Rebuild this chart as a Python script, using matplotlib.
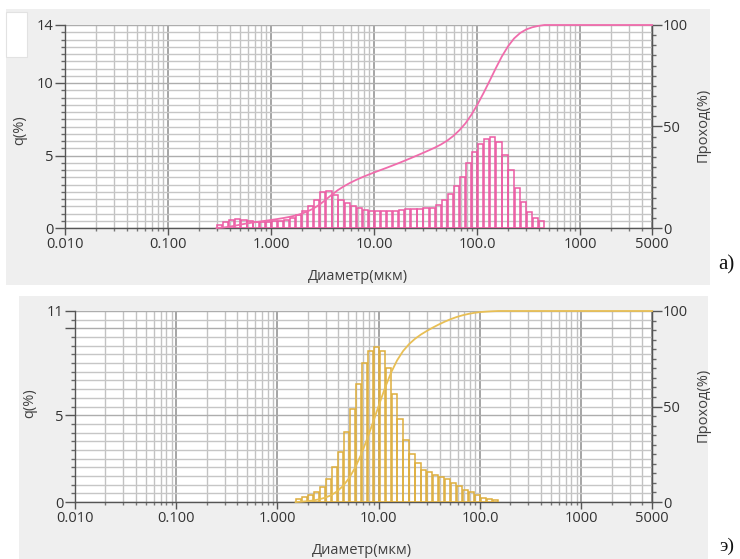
import matplotlib
matplotlib.use("Agg")
import matplotlib.pyplot as plt
from matplotlib.patches import Rectangle
import numpy as np

# ---------------- data ----------------
# Particle size channel edges (mkm), chart a
edges_a = [0.296, 0.339, 0.389, 0.445, 0.510, 0.584, 0.669, 0.766, 0.877, 1.005,
           1.151, 1.318, 1.510, 1.729, 1.981, 2.269, 2.599, 2.976, 3.409, 3.905,
           4.472, 5.122, 5.867, 6.720, 7.697, 8.816, 10.10, 11.57, 13.25, 15.17,
           17.38, 19.90, 22.80, 26.11, 29.91, 34.26, 39.23, 44.94, 51.47, 58.95,
           67.52, 77.34, 88.58, 101.5, 116.2, 133.1, 152.5, 174.6, 200.0, 229.1,
           262.4, 300.5, 344.2, 394.2, 451.6]
q_a = [0.20, 0.40, 0.55, 0.62, 0.55, 0.48, 0.42, 0.42, 0.44, 0.46,
       0.50, 0.58, 0.70, 0.90, 1.20, 1.55, 1.95, 2.45, 2.55, 2.30,
       1.95, 1.70, 1.50, 1.35, 1.25, 1.20, 1.15, 1.15, 1.18, 1.20,
       1.25, 1.28, 1.30, 1.33, 1.35, 1.40, 1.60, 1.90, 2.35, 2.90,
       3.50, 4.45, 5.25, 5.80, 6.15, 6.30, 5.95, 5.05, 4.00, 2.75,
       1.80, 1.10, 0.70, 0.45]

# chart b
edges_b = [1.510, 1.729, 1.981, 2.269, 2.599, 2.976, 3.409, 3.905, 4.472, 5.122,
           5.867, 6.720, 7.697, 8.816, 10.10, 11.57, 13.25, 15.17, 17.38, 19.90,
           22.80, 26.11, 29.91, 34.26, 39.23, 44.94, 51.47, 58.95, 67.52, 77.34,
           88.58, 101.5, 116.2, 133.1, 152.5]
q_b = [0.17, 0.26, 0.39, 0.60, 0.86, 1.30, 2.00, 2.86, 4.02, 5.38,
       6.78, 7.98, 8.70, 8.95, 8.72, 7.70, 6.23, 4.80, 3.56, 2.75,
       2.22, 1.87, 1.73, 1.58, 1.45, 1.30, 1.10, 0.90, 0.71, 0.56,
       0.38, 0.23, 0.17, 0.13]

x_major = [0.01, 0.1, 1, 10, 100, 1000, 5000]
x_major_labels = ["0.010", "0.100", "1.000", "10.00", "100.0", "1000", "5000"]
x_min_lim, x_max_lim = 0.01, 5000

yl_a_ticks = [0, 5, 10, 14]
yl_a_labels = ["0", "5", "10", "14"]
yl_b_ticks = [0, 5, 10, 11]
yl_b_labels = ["0", "5", "", "11"]
yr_ticks = [0, 50, 100]

xlabel = "Диаметр(мкм)"
ylabel_l = "q(%)"
ylabel_r = "Проход(%)"

color_a = "#ec5aa3"
line_a = "#f06cac"
color_b = "#deae3c"
line_b = "#e8bf55"

# ---------------- figure ----------------
W, H = 740, 559
fig = plt.figure(figsize=(W / 100, H / 100), dpi=100)
fig.patch.set_facecolor("white")
FONT = "Open Sans"
TICK_C = "#333333"
LAB_C = "#404040"


def frect(x0, y0, x1, y1):
    return [x0 / W, 1 - y1 / H, (x1 - x0) / W, (y1 - y0) / H]


def panel(x0, y0, x1, y1, fc="#efefef", ec="none", z=-10):
    r = Rectangle((x0 / W, 1 - y1 / H), (x1 - x0) / W, (y1 - y0) / H,
                  transform=fig.transFigure, facecolor=fc, edgecolor=ec,
                  linewidth=0.8, zorder=z)
    fig.add_artist(r)


panel(6, 9, 710, 285)
panel(6, 12, 27, 57, fc="white", ec="#e2e2e2", z=-9)
panel(19, 296, 708, 559)

minor_x = []
for dec in [0.01, 0.1, 1, 10, 100, 1000]:
    for m in range(2, 10):
        v = dec * m
        if v < x_max_lim:
            minor_x.append(v)


def make_chart(rect, edges, q, ymax, lticks, llabels, bar_c, line_c):
    ax = fig.add_axes(rect)
    ax.set_facecolor("white")
    ax.set_xscale("log")
    ax.set_xlim(x_min_lim, x_max_lim)
    ax.set_ylim(0, ymax)
    ax.set_xticks(x_major)
    ax.set_xticklabels(x_major_labels)
    ax.set_xticks(minor_x, minor=True)
    ax.set_xticklabels([], minor=True)
    ax.set_yticks(lticks)
    ax.set_yticklabels(llabels)
    ax.set_yticks(np.arange(0, ymax + 0.01, 0.5), minor=True)
    ax.set_axisbelow(True)
    ax.xaxis.grid(True, which="major", color="#9e9e9e", linewidth=1.3)
    ax.xaxis.grid(True, which="minor", color="#c2c2c2", linewidth=1.0)
    ax.yaxis.grid(True, which="minor", color="#c6c6c6", linewidth=1.0)
    ax.yaxis.grid(True, which="major", color="#adadad", linewidth=1.0)
    for s in ["top"]:
        ax.spines[s].set_visible(False)
    for s in ["left", "right", "bottom"]:
        ax.spines[s].set_color("#555555")
        ax.spines[s].set_linewidth(1.0)
    ax.tick_params(axis="x", which="major", direction="out", length=5, width=1,
                   color="#555555", pad=1.5, labelsize=10.5, labelcolor=TICK_C)
    ax.tick_params(axis="x", which="minor", direction="out", length=2.5, width=1,
                   color="#777777")
    ax.tick_params(axis="y", which="major", direction="out", length=7, width=1,
                   color="#555555", pad=1, labelsize=10.5, labelcolor=TICK_C)
    ax.tick_params(axis="y", which="minor", direction="out", length=3, width=1,
                   color="#666666")
    for lab in ax.get_xticklabels() + ax.get_yticklabels():
        lab.set_fontfamily(FONT)

    lefts = np.array(edges[:-1])
    rights = np.array(edges[1:])
    r = (rights / lefts) ** 0.07
    bl = lefts * r
    br = rights / r
    ax.bar(bl, np.array(q), width=br - bl, align="edge", fill=False,
           edgecolor=bar_c, linewidth=1.1, zorder=3)

    ax2 = ax.twinx()
    ax2.set_ylim(0, 100)
    ax2.set_xlim(x_min_lim, x_max_lim)
    ax2.set_yticks(yr_ticks)
    ax2.set_yticks(np.arange(0, 101, 5), minor=True)
    ax2.tick_params(axis="y", which="major", direction="out", length=7, width=1,
                    color="#555555", pad=1, labelsize=10.5, labelcolor=TICK_C)
    ax2.tick_params(axis="y", which="minor", direction="out", length=3, width=1,
                    color="#666666")
    for lab in ax2.get_yticklabels():
        lab.set_fontfamily(FONT)
    for s in ["top", "left", "bottom"]:
        ax2.spines[s].set_visible(False)
    ax2.spines["right"].set_color("#555555")
    cum = np.cumsum(q)
    cum = cum / cum[-1] * 100
    cx = list(edges) + [x_max_lim]
    cy = [0] + list(cum) + [100]
    ax2.plot(cx, cy, color=line_c, linewidth=1.3, zorder=4, clip_on=False)
    return ax, ax2


make_chart(frect(65, 25, 652, 228), edges_a, q_a, 14, yl_a_ticks, yl_a_labels,
           color_a, line_a)
make_chart(frect(75, 311, 652, 502), edges_b, q_b, 11, yl_b_ticks, yl_b_labels,
           color_b, line_b)


def ftext(x, y, s, rot=0, size=10.5, fam=FONT, color=LAB_C):
    fig.text(x / W, 1 - y / H, s, rotation=rot, ha="center", va="center",
             fontsize=size, family=fam, color=color)


ftext(20, 130, ylabel_l, rot=90)
ftext(703, 125, ylabel_r, rot=90)
ftext(358, 277, xlabel)
ftext(30, 403, ylabel_l, rot=90)
ftext(703, 405, ylabel_r, rot=90)
ftext(362, 551, xlabel)
ftext(726, 265, "a)", size=15, fam="Liberation Serif", color="#111111")
ftext(727, 546, "э)", size=14, fam="Liberation Serif", color="#111111")

fig.savefig("out.png", dpi=100, facecolor="white")
